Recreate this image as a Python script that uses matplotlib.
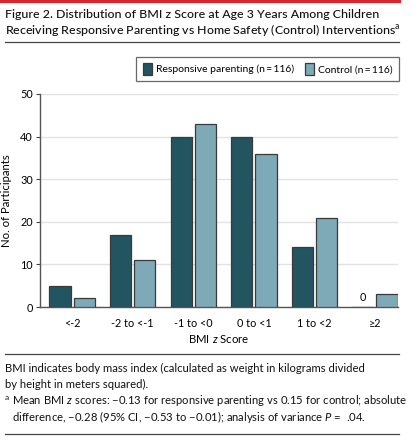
import numpy as np
import matplotlib
matplotlib.use("Agg")
import matplotlib.pyplot as plt
from matplotlib.lines import Line2D

plt.rcParams['font.family'] = ['Lato', 'DejaVu Sans']
plt.rcParams['mathtext.fontset'] = 'custom'
plt.rcParams['mathtext.rm'] = 'Lato'
plt.rcParams['mathtext.it'] = 'Lato:italic'

#data
categories = ["<-2", "-2 to <-1", "-1 to <0", "0 to <1", "1 to <2", "\u22652"]
responsive = [5, 17, 40, 40, 14, 0]
control = [2, 11, 43, 36, 21, 3]
yticks = [0, 10, 20, 30, 40, 50]

dark = "#22555f"
light = "#7eaab7"
edge = "#3a3a3a"

W, H = 416, 442
fig = plt.figure(figsize=(W / 100, H / 100), dpi=100)

def fx(px):
    return px / W

def fy(py):
    return 1 - py / H

# rules
fig.add_artist(Line2D([0, fx(399)], [fy(1), fy(1)], color="#d7262e", lw=2.2))
for yy in [42, 354, 434]:
    fig.add_artist(Line2D([fx(5), fx(399)], [fy(yy), fy(yy)], color="#444444", lw=0.9))

# title
fig.text(fx(5), fy(15), "Figure 2. Distribution of BMI z Score at Age 3 Years Among Children",
         fontsize=8.9, va="center", ha="left", color="#111111", fontweight="medium")
fig.text(fx(5), fy(30), "Receiving Responsive Parenting vs Home Safety (Control) Interventions$^{\\mathrm{a}}$",
         fontsize=8.9, va="center", ha="left", color="#111111", fontweight="medium")

# axes
ax = fig.add_axes([fx(40), fy(307), fx(398) - fx(40), fy(94) - fy(307)])
x = np.arange(len(categories))
w = 0.35
b1 = ax.bar(x - 0.2, responsive, w, color=dark, edgecolor=edge, linewidth=0.9,
            label="Responsive parenting (n\u2009=\u2009116)", zorder=3)
b2 = ax.bar(x + 0.2, control, w, color=light, edgecolor=edge, linewidth=0.9,
            label="Control (n\u2009=\u2009116)", zorder=3)

for i, v in enumerate(responsive):
    if v == 0:
        ax.text(x[i] - 0.2, 1.0, "0", ha="center", va="bottom", fontsize=7.8)

ax.set_xlim(-0.53, 5.38)
ax.set_ylim(0, 50)
ax.set_yticks(yticks)
ax.set_xticks(x)
ax.set_xticklabels(categories)
ax.tick_params(axis="x", length=0, pad=8, labelsize=7.8)
ax.tick_params(axis="y", length=3, width=0.8, color="#444444", pad=2, labelsize=7.8)
ax.grid(axis="y", color="#e2e2e2", lw=1.0, zorder=0)
for s in ["top", "right"]:
    ax.spines[s].set_visible(False)
for s in ["left", "bottom"]:
    ax.spines[s].set_color("#555555")
    ax.spines[s].set_linewidth(1.0)
ax.set_xlabel("BMI $\\mathit{z}$ Score", fontsize=8.2, labelpad=3)
ax.set_ylabel("No. of Participants", fontsize=8.2, labelpad=6)

leg = fig.legend(handles=[b1, b2], ncol=2, loc="upper right",
                 bbox_to_anchor=(fx(399), fy(57)), fontsize=7.5, frameon=True,
                 fancybox=False, edgecolor="#444444", handlelength=0.9,
                 handleheight=1.3, handletextpad=0.4, columnspacing=1.0,
                 borderpad=0.6, borderaxespad=0)
leg.get_frame().set_linewidth(0.9)

# footnotes
fs = 8.1
fig.text(fx(5), fy(368), "BMI indicates body mass index (calculated as weight in kilograms divided",
         fontsize=fs, va="center", ha="left", color="#111111")
fig.text(fx(5), fy(384), "by height in meters squared).",
         fontsize=fs, va="center", ha="left", color="#111111")
fig.text(fx(5), fy(397), "a", fontsize=6, va="center", ha="left", color="#111111")
fig.text(fx(12), fy(401), "Mean BMI $\\mathit{z}$ scores: \u22120.13 for responsive parenting vs 0.15 for control; absolute",
         fontsize=fs, va="center", ha="left", color="#111111")
fig.text(fx(12), fy(417), "difference, \u22120.28 (95% CI, \u22120.53 to \u22120.01); analysis of variance $\\mathit{P}$ =  .04.",
         fontsize=fs, va="center", ha="left", color="#111111")

fig.savefig("out.png", dpi=100)
